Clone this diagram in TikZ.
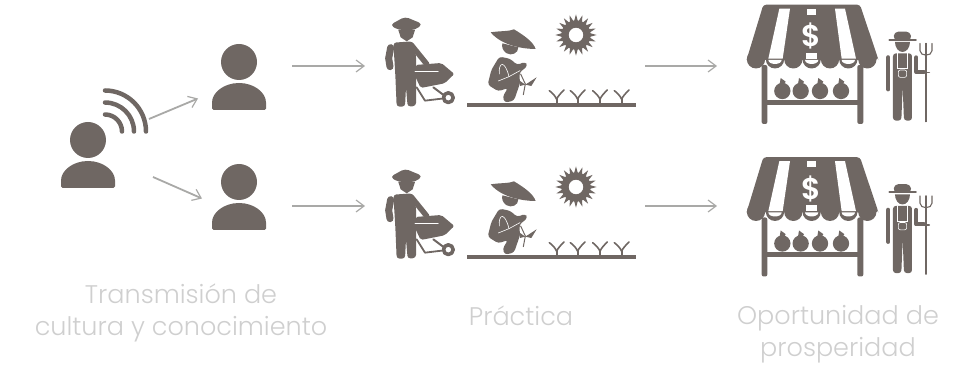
\documentclass[tikz,border=0pt]{standalone}
\usepackage{fontspec}
\setmainfont[UprightFont={* Light}]{Poppins}
\usetikzlibrary{arrows.meta}
\definecolor{iconbrown}{HTML}{6F6763}
\definecolor{arrowgrey}{HTML}{A9A9A7}
\definecolor{labelgrey}{HTML}{CFCFCF}
\tikzset{
    icon/.style={fill=iconbrown, draw=none},
    iconline/.style={draw=iconbrown, line cap=round, line join=round},
    cutline/.style={draw=white, line width=0.6pt, line cap=round},
    flow/.style={draw=arrowgrey, line width=1.8pt, -{Straight Barb[length=8pt,width=12pt,line width=1.2pt]}},
    caption/.style={text=labelgrey, align=center, font=\fontsize{25.5}{32.5}\selectfont},
    person/.pic={
        \fill[icon] (0,-21) circle (18);
        \fill[icon, rounded corners=1.5pt] (-27,27) -- (-27,21) arc (180:360:27 and 21) -- (27,27) -- cycle;
    },
    planter/.pic={
        \begin{scope}[x=0.3333pt, y=-0.3333pt]
            % wheelbarrow man
            \fill[icon, rounded corners=4pt] (60,75) -- (105,50) -- (158,72) -- (135,90) -- (85,90) -- cycle;
            \fill[icon] (85,90) -- (135,90) -- (128,112) -- (110,124) -- (92,112) -- cycle;
            \fill[icon, rounded corners=3pt] (70,128) -- (128,124) -- (138,165) -- (138,318) -- (113,320) -- (108,262) -- (105,320) -- (80,320) -- (76,225) -- (72,160) -- cycle;
            \draw[iconline, line width=7pt] (62,143) -- (56,175) -- (60,200);
            \draw[iconline, line width=5.5pt] (124,135) -- (170,192);
            \fill[icon, rounded corners=2pt] (136,195) -- (214,189) -- (253,222) -- (224,250) -- (152,264) -- (136,230) -- cycle;
            \draw[cutline] (135,215) -- (205,215);
            \draw[iconline, line width=1.8pt] (140,262) -- (165,302) -- (215,296);
            \draw[iconline, line width=2pt] (190,262) -- (222,286);
            \draw[iconline, line width=3.6pt] (235,293) circle (14.5);
            % crouching man
            \fill[icon] (362,97) .. controls (395,92) and (415,95) .. (432,88) .. controls (460,105) and (490,125) .. (497,147) .. controls (460,147) and (395,137) .. cycle;
            \fill[icon] (397,130) -- (445,142) .. controls (445,160) and (425,168) .. (410,160) .. controls (398,152) and (395,142) .. cycle;
            \fill[icon, rounded corners=3pt] (388,170) -- (420,176) -- (442,195) -- (466,185) -- (473,198) -- (448,218) -- (450,250) -- (432,302) -- (404,308) -- (398,290) -- (414,264) -- (385,274) -- (353,254) -- (364,210) -- cycle;
            \draw[cutline] (388,222) .. controls (385,185) and (405,180) .. (417,230) -- (385,243);
            \draw[cutline] (417,230) -- (450,212);
            \draw[iconline, line width=1pt] (452,222) -- (466,252) -- (460,284);
            \fill[icon] (466,254) -- (500,232) -- (484,258) -- cycle;
            \fill[icon] (466,254) -- (446,240) -- (450,258) -- cycle;
            % sun
            \fill[icon, even odd rule] (618,105) circle (44) (618,105) circle (22);
            \foreach \ang in {0,18,...,342} {
                \fill[icon] (618,105) ++(\ang:62) -- ([shift={(\ang+9:40)}]618,105) -- ([shift={(\ang-9:40)}]618,105) -- cycle;
            }
            % sprouts and ground
            \foreach \xs in {560,623,690,755} {
                \draw[iconline, line width=2.2pt] (\xs,312) -- (\xs,298);
                \draw[iconline, line width=1.6pt] (\xs-22,272) .. controls (\xs-12,280) and (\xs-4,288) .. (\xs,298) .. controls (\xs+4,288) and (\xs+12,280) .. (\xs+22,270);
            }
            \fill[icon] (291,310) rectangle (799,322);
        \end{scope}
    },
    stallfarmer/.pic={
        \begin{scope}[x=0.3333pt, y=-0.3333pt]
            % awning
            \fill[icon, rounded corners=3pt] (100,14) -- (390,14) -- (443,172) -- (445,180) -- (50,180) -- (52,172) -- cycle;
            \foreach \xs in {78,135,190,245,300,355,412} {
                \fill[icon] (\xs,178) circle (27.5);
            }
            \fill[white] (148,26) -- (180,26) -- (158,176) -- (115,176) -- cycle;
            \fill[white] (315,26) -- (345,26) -- (378,176) -- (335,176) -- cycle;
            \fill[white] (232,27) rectangle (258,45);
            \fill[white] (228,158) -- (262,158) -- (262,176) -- (228,176) -- cycle;
            \node[text=white, font=\bfseries\fontsize{30}{30}\selectfont] (dollar) at (243,108) {\$};
            \foreach \xs in {135,245,355} {
                \fill[white] (\xs-20,180) arc (180:0:20 and 12) -- cycle;
            }
            % stand
            \fill[icon, rounded corners=2pt] (95,195) rectangle (112,372);
            \fill[icon, rounded corners=2pt] (382,195) rectangle (400,372);
            \fill[icon] (100,299) rectangle (390,315);
            \foreach \xs in {157,212,270,333} {
                \fill[icon] (\xs,273) circle (24.5);
                \fill[icon] (\xs-8,252) -- (\xs-5,234) -- (\xs+10,245) -- (\xs+6,252) -- cycle;
            }
            % farmer
            \draw[iconline, line width=2pt] (478,120) -- (558,120);
            \fill[icon, rounded corners=4pt] (490,120) -- (493,95) -- (541,95) -- (545,120) -- cycle;
            \fill[icon] (495,126) -- (540,126) arc (0:180:22.5 and 30) -- cycle;
            \fill[icon, rounded corners=3pt] (489,160) -- (546,160) -- (546,362) -- (522,362) -- (518,260) -- (514,362) -- (489,362) -- cycle;
            \draw[iconline, line width=4.2pt] (475,172) -- (475,268);
            \draw[iconline, line width=4pt] (559,172) -- (559,216) -- (582,216);
            \draw[cutline] (503,160) -- (503,205) -- (532,205) -- (532,160);
            \draw[cutline, rounded corners=2pt] (505,210) -- (530,210) -- (530,232) -- (505,232) -- cycle;
            \draw[iconline, line width=1.2pt] (588,165) -- (588,365);
            \draw[iconline, line width=1.1pt] (570,130) -- (570,152) .. controls (570,170) and (606,170) .. (606,152) -- (606,130);
            \draw[iconline, line width=1.1pt] (588,130) -- (588,165);
            \draw[iconline, line width=1.4pt] (585,217) -- (598,217);
        \end{scope}
    },
}
\begin{document}
\begin{tikzpicture}[x=1pt, y=-1pt]
    \useasboundingbox (0,0) rectangle (969,371);

    %Icons
    \pic at (88,161) {person};
    \pic at (239,83) {person};
    \pic at (239,203) {person};
    \draw[iconline, line width=4.5pt] (105,90.5) arc (-90:0:41);
    \draw[iconline, line width=4.5pt] (105,102.5) arc (-90:0:29);
    \draw[iconline, line width=4.5pt] (105,114.5) arc (-90:0:17);
    \pic at (370,0) {planter};
    \pic at (370,152) {planter};
    \pic at (730,0) {stallfarmer};
    \pic at (730,152.5) {stallfarmer};

    %Nodes
    \coordinate (senderup) at (149,119);
    \coordinate (senderdown) at (153,177);
    \coordinate (listenerup) at (198,98.5);
    \coordinate (listenerdown) at (202,198.5);
    \coordinate (listenerupout) at (292,66);
    \coordinate (listenerdownout) at (292,206);
    \coordinate (fieldup) at (365,66);
    \coordinate (fielddown) at (365,206);
    \coordinate (fieldupout) at (645,66);
    \coordinate (fielddownout) at (645,206);
    \coordinate (stallup) at (717,66);
    \coordinate (stalldown) at (717,206);

    \node[caption] at (181,313) (transmision) {Transmisión de\\cultura y conocimiento};
    \node[caption] at (521,316) (practica) {Práctica};
    \node[caption] at (838,334) (oportunidad) {Oportunidad de\\prosperidad};

    %Lines
    \draw[flow] (senderup) -- (listenerup);
    \draw[flow] (senderdown) -- (listenerdown);
    \draw[flow] (listenerupout) -- (fieldup);
    \draw[flow] (listenerdownout) -- (fielddown);
    \draw[flow] (fieldupout) -- (stallup);
    \draw[flow] (fielddownout) -- (stalldown);
\end{tikzpicture}
\end{document}
